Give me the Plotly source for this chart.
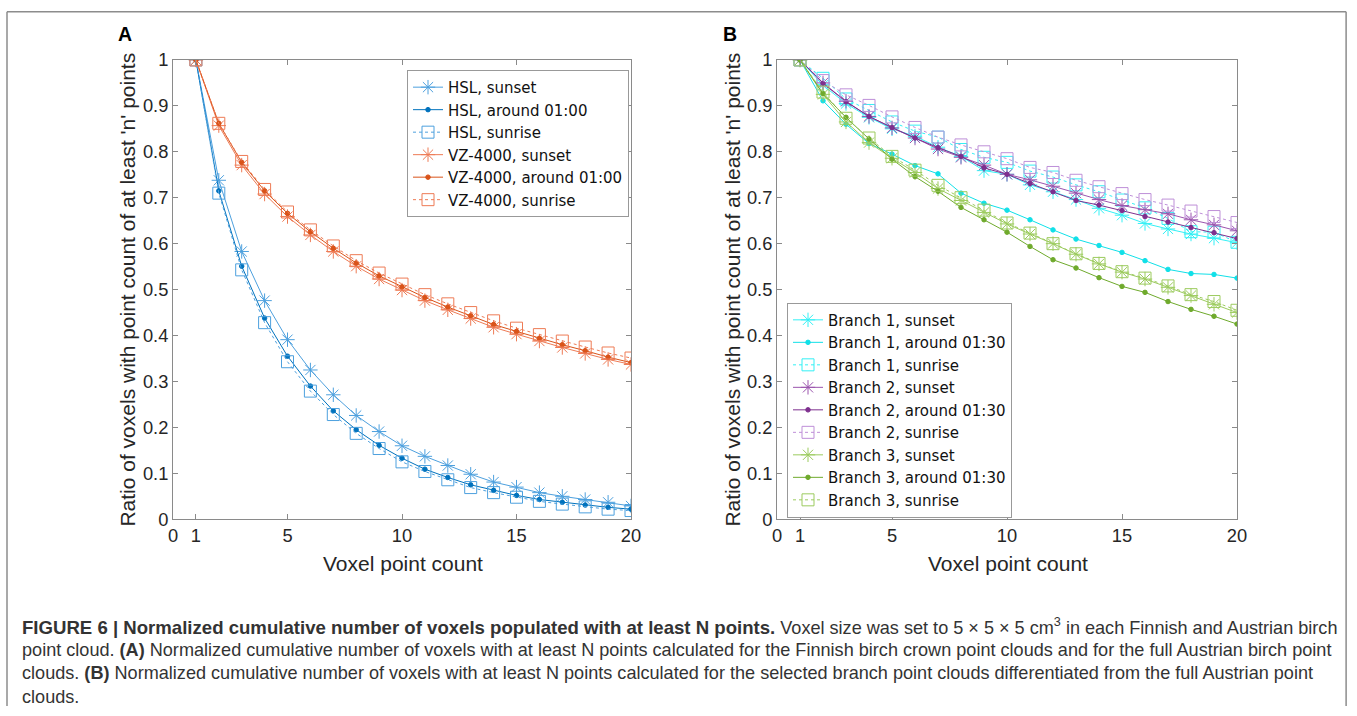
import plotly.graph_objects as go

W, H = 1357, 716
# the photographed canvas lands inside the picture at x 5..1347, y 10..706
SX, OX = 1342 / 1357, 5
SY, OY = 696 / 716, 10

n = list(range(1, 21))

hsl_sunset = [1, 0.738, 0.583, 0.476, 0.391, 0.325, 0.271, 0.226, 0.191, 0.160, 0.137, 0.117, 0.098, 0.081, 0.070, 0.058, 0.050, 0.043, 0.037, 0.029]
hsl_around = [1, 0.715, 0.551, 0.438, 0.355, 0.290, 0.236, 0.195, 0.161, 0.133, 0.109, 0.091, 0.075, 0.063, 0.052, 0.043, 0.037, 0.031, 0.026, 0.022]
hsl_sunrise = [1, 0.710, 0.543, 0.428, 0.343, 0.279, 0.228, 0.187, 0.154, 0.125, 0.104, 0.086, 0.069, 0.058, 0.048, 0.039, 0.033, 0.027, 0.022, 0.019]
vz_sunset = [1, 0.857, 0.771, 0.708, 0.659, 0.619, 0.583, 0.551, 0.523, 0.499, 0.476, 0.456, 0.437, 0.418, 0.403, 0.388, 0.374, 0.361, 0.348, 0.337]
vz_around = [1, 0.862, 0.777, 0.715, 0.666, 0.626, 0.590, 0.558, 0.530, 0.506, 0.483, 0.462, 0.443, 0.424, 0.409, 0.394, 0.380, 0.367, 0.353, 0.341]
vz_sunrise = [1, 0.862, 0.779, 0.718, 0.669, 0.630, 0.595, 0.563, 0.536, 0.512, 0.489, 0.469, 0.450, 0.432, 0.416, 0.402, 0.388, 0.375, 0.362, 0.351]

b1_sunset = [1, 0.945, 0.905, 0.875, 0.850, 0.834, 0.810, 0.790, 0.759, 0.751, 0.728, 0.713, 0.696, 0.677, 0.662, 0.644, 0.632, 0.621, 0.612, 0.602]
b1_around = [1, 0.911, 0.860, 0.818, 0.795, 0.770, 0.752, 0.710, 0.688, 0.673, 0.652, 0.630, 0.610, 0.596, 0.581, 0.563, 0.544, 0.535, 0.533, 0.525]
b1_sunrise = [1, 0.960, 0.915, 0.890, 0.865, 0.845, 0.832, 0.805, 0.788, 0.777, 0.758, 0.745, 0.728, 0.713, 0.695, 0.678, 0.655, 0.626, 0.625, 0.603]
b2_sunset = [1, 0.950, 0.910, 0.877, 0.852, 0.830, 0.806, 0.788, 0.771, 0.751, 0.739, 0.725, 0.710, 0.696, 0.683, 0.674, 0.665, 0.652, 0.641, 0.628]
b2_around = [1, 0.949, 0.909, 0.877, 0.853, 0.830, 0.809, 0.790, 0.765, 0.751, 0.731, 0.713, 0.694, 0.684, 0.672, 0.659, 0.647, 0.635, 0.624, 0.611]
b2_sunrise = [1, 0.955, 0.924, 0.901, 0.876, 0.853, 0.832, 0.815, 0.800, 0.785, 0.766, 0.755, 0.738, 0.724, 0.709, 0.696, 0.684, 0.671, 0.659, 0.646]
b3_sunset = [1, 0.925, 0.865, 0.820, 0.786, 0.755, 0.720, 0.694, 0.668, 0.643, 0.621, 0.600, 0.577, 0.556, 0.538, 0.523, 0.505, 0.487, 0.468, 0.450]
b3_around = [1, 0.927, 0.875, 0.828, 0.784, 0.746, 0.714, 0.679, 0.652, 0.625, 0.594, 0.565, 0.547, 0.526, 0.507, 0.494, 0.474, 0.457, 0.442, 0.425]
b3_sunrise = [1, 0.930, 0.873, 0.830, 0.790, 0.760, 0.727, 0.700, 0.673, 0.645, 0.623, 0.600, 0.578, 0.557, 0.539, 0.525, 0.508, 0.489, 0.474, 0.455]

x_ticks = [0, 1, 5, 10, 15, 20]
y_ticks = [0, 0.1, 0.2, 0.3, 0.4, 0.5, 0.6, 0.7, 0.8, 0.9, 1]
y_ticktext = ["0", "0.1", "0.2", "0.3", "0.4", "0.5", "0.6", "0.7", "0.8", "0.9", "1"]

FONT = "Liberation Sans, Arial, sans-serif"
LEGEND_FONT = "DejaVu Sans, Liberation Sans, sans-serif"

def px_x(p):
    return ((p - OX) / SX) / W

def px_y(p):
    return 1 - ((p - OY) / SY) / H

fig = go.Figure()

STYLE = {
    "sunset": dict(symbol="asterisk-open", size=12, dash="solid"),
    "around": dict(symbol="circle", size=4.5, dash="solid"),
    "sunrise": dict(symbol="square-open", size=12, dash="dot"),
}

def add(name, y, kind, color, xa, ya, legend):
    st = STYLE[kind]
    fig.add_trace(go.Scatter(
        x=n, y=y, name=name, mode="lines+markers",
        xaxis=xa, yaxis=ya, legend=legend,
        line=dict(color=color, width=1, dash=st["dash"]),
        marker=dict(symbol=st["symbol"], size=st["size"], color=color,
                    line=dict(color=color, width=1)),
    ))

c_hsl_l = "#4DA0DE"
c_hsl = "#0072BD"
c_vz_l = "#EE7B55"
c_vz = "#D95319"
add("HSL, sunset", hsl_sunset, "sunset", c_hsl_l, "x", "y", "legend")
add("HSL, around 01:00", hsl_around, "around", c_hsl, "x", "y", "legend")
add("HSL, sunrise", hsl_sunrise, "sunrise", c_hsl_l, "x", "y", "legend")
add("VZ-4000, sunset", vz_sunset, "sunset", c_vz_l, "x", "y", "legend")
add("VZ-4000, around 01:00", vz_around, "around", c_vz, "x", "y", "legend")
add("VZ-4000, sunrise", vz_sunrise, "sunrise", c_vz_l, "x", "y", "legend")

c_b1_l = "#33F0F5"
c_b1 = "#10E0E8"
c_b2_l = "#9B55AE"
c_b2 = "#7E2F8E"
c_b2_s = "#BE8FD8"
c_b3_l = "#9CCB5E"
c_b3 = "#6FAA2C"
add("Branch 1, sunset", b1_sunset, "sunset", c_b1_l, "x2", "y2", "legend2")
add("Branch 1, around 01:30", b1_around, "around", c_b1, "x2", "y2", "legend2")
add("Branch 1, sunrise", b1_sunrise, "sunrise", c_b1_l, "x2", "y2", "legend2")
add("Branch 2, sunset", b2_sunset, "sunset", c_b2_l, "x2", "y2", "legend2")
add("Branch 2, around 01:30", b2_around, "around", c_b2, "x2", "y2", "legend2")
add("Branch 2, sunrise", b2_sunrise, "sunrise", c_b2_s, "x2", "y2", "legend2")
add("Branch 3, sunset", b3_sunset, "sunset", c_b3_l, "x2", "y2", "legend2")
add("Branch 3, around 01:30", b3_around, "around", c_b3, "x2", "y2", "legend2")
add("Branch 3, sunrise", b3_sunrise, "sunrise", c_b3_l, "x2", "y2", "legend2")

AX_COLOR = "#8A8A8A"
TICK_FONT = dict(family=FONT, size=18.3, color="#262626")

def xaxis(domain, anchor):
    return dict(domain=domain, anchor=anchor, range=[0, 20], tickmode="array",
                tickvals=x_ticks, ticktext=[str(v) for v in x_ticks],
                ticks="inside", ticklen=5, tickcolor=AX_COLOR, showline=True,
                linecolor=AX_COLOR, linewidth=1, mirror="ticks", showgrid=False,
                zeroline=False, tickfont=TICK_FONT, fixedrange=True)

def yaxis(domain, anchor):
    return dict(domain=domain, anchor=anchor, range=[0, 1], tickmode="array",
                tickvals=y_ticks, ticktext=y_ticktext,
                ticks="inside", ticklen=5, tickcolor=AX_COLOR, showline=True,
                linecolor=AX_COLOR, linewidth=1, mirror="ticks", showgrid=False,
                zeroline=False, tickfont=TICK_FONT, fixedrange=True)

LEG_FONT = dict(family=LEGEND_FONT, size=15, color="#111111")
ydom = [px_y(519), px_y(59)]
fig.update_layout(
    width=W, height=H,
    margin=dict(l=0, r=0, t=0, b=0),
    paper_bgcolor="white", plot_bgcolor="white",
    font=dict(family=FONT, color="#262626"),
    xaxis=xaxis([px_x(173), px_x(631)], "y"),
    yaxis=yaxis(ydom, "x"),
    xaxis2=xaxis([px_x(777), px_x(1237)], "y2"),
    yaxis2=yaxis(ydom, "x2"),
    legend=dict(x=px_x(407), y=px_y(69), xanchor="left", yanchor="top",
                bgcolor="white", bordercolor="#999999", borderwidth=1,
                font=LEG_FONT, tracegroupgap=0, itemwidth=30),
    legend2=dict(x=px_x(787), y=px_y(302), xanchor="left", yanchor="top",
                 bgcolor="white", bordercolor="#999999", borderwidth=1,
                 font=LEG_FONT, tracegroupgap=0, itemwidth=30),
    showlegend=True,
)

ann = []
def text_at(text, x, y, size, color, angle=0, xanchor="center"):
    ann.append(dict(text=text, x=px_x(x), y=px_y(y), xref="paper", yref="paper",
                    xanchor=xanchor, yanchor="middle", textangle=angle, showarrow=False,
                    font=dict(family=FONT, size=size, color=color)))

text_at("<b>A</b>", 125, 33, 19.5, "black")
text_at("<b>B</b>", 730, 33, 19.5, "black")
ytitle = "Ratio of voxels with point count of at least 'n' points"
for xc in (128, 733):
    text_at(ytitle, xc, 289, 21, "#262626", angle=-90)
for xc in (403, 1008):
    text_at("Voxel point count", xc, 563, 21, "#262626")

cap_lines = [
    "<span style=\"font-size:18.6px\"><b>FIGURE 6 | Normalized cumulative number of voxels populated with at least N points.</b></span> Voxel size was set to 5 × 5 × 5 cm<sup>3</sup> in each Finnish and Austrian birch",
    "point cloud. <b>(A)</b> Normalized cumulative number of voxels with at least N points calculated for the Finnish birch crown point clouds and for the full Austrian birch point",
    "clouds. <b>(B)</b> Normalized cumulative number of voxels with at least N points calculated for the selected branch point clouds differentiated from the full Austrian point",
    "clouds.",
]
for i, line in enumerate(cap_lines):
    text_at(line, 20, 626 + 23.6 * i, 18.1, "#333333", xanchor="left")
fig.update_layout(annotations=ann)

# figure frame (open at the bottom, as in the reference), kept inside the canvas
FR = dict(color="#8C8C8C", width=1.5)
fx0 = px_x(7)
fx1 = 1 - 0.9 / W
fy1 = 1 - 0.9 / H
fig.add_shape(type="line", xref="paper", yref="paper", x0=fx0, x1=fx0,
              y0=0, y1=fy1, line=FR, layer="below")
fig.add_shape(type="line", xref="paper", yref="paper", x0=fx1, x1=fx1,
              y0=0, y1=fy1, line=FR, layer="below")
fig.add_shape(type="line", xref="paper", yref="paper", x0=fx0, x1=fx1,
              y0=fy1, y1=fy1, line=FR, layer="below")

fig.write_html("out.html", config={"displayModeBar": False},
               post_script="document.body.style.margin='0';")
